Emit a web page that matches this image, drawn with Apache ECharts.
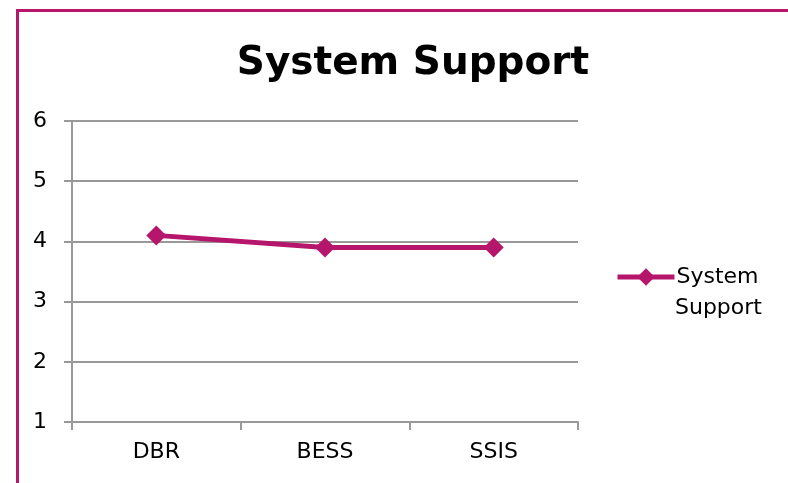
<!DOCTYPE html>
<html><head><meta charset="utf-8">
<script src="https://cdn.jsdelivr.net/npm/echarts@6/dist/echarts.min.js"></script>
<style>html,body{margin:0;padding:0;background:#fff}#c{width:788px;height:483px}</style>
</head><body><div id="c"></div>
<script>
const categories = ['DBR', 'BESS', 'SSIS'];
const seriesName = 'System Support';
const values = [4.1, 3.9, 3.9];
const yTicks = [1, 2, 3, 4, 5, 6];

const chart = echarts.init(document.getElementById('c'));
const font = '"DejaVu Sans", sans-serif';
chart.setOption({
  animation: false,
  backgroundColor: '#fff',
  graphic: [{
    type: 'rect', left: 15, top: 8, shape: { width: 800, height: 500 },
    style: { fill: 'none', stroke: '#b5166b', lineWidth: 3 }, z: 100
  }, {
    type: 'text', left: 675, top: 297,
    style: { text: 'Support', font: '22px "DejaVu Sans", sans-serif', fill: '#000' }
  }],
  title: {
    text: 'System Support', left: 408, top: 39, textAlign: 'center',
    textStyle: { fontFamily: font, fontWeight: 'bold', fontSize: 39, color: '#000' }
  },
  grid: { left: 72, top: 121, width: 506, height: 301, containLabel: false },
  legend: {
    left: 610, top: 261, itemWidth: 57, itemHeight: 22, itemGap: 0,
    data: [{ name: seriesName }],
    formatter: () => 'System',
    lineStyle: { width: 5 },
    textStyle: { fontFamily: font, fontSize: 22, color: '#000', padding: [0, 0, 0, -3] }
  },
  xAxis: {
    type: 'category', data: categories, boundaryGap: true,
    axisLine: { lineStyle: { color: '#999', width: 2 } },
    axisTick: { show: true, length: 8, lineStyle: { color: '#999', width: 2 } },
    axisLabel: { fontFamily: font, fontSize: 22, color: '#000', margin: 19 }
  },
  yAxis: {
    type: 'value', min: 1, max: 6, interval: 1,
    axisLine: { show: true, lineStyle: { color: '#999', width: 2 } },
    axisTick: { show: true, length: 8, lineStyle: { color: '#999', width: 2 } },
    splitLine: { lineStyle: { color: '#999', width: 2 } },
    axisLabel: { fontFamily: font, fontSize: 22, color: '#000', margin: 25 }
  },
  series: [{
    name: seriesName, type: 'line', data: values,
    symbol: 'diamond', symbolSize: 20,
    lineStyle: { color: '#b5166b', width: 5 },
    itemStyle: { color: '#b5166b' }
  }]
});
</script></body></html>
